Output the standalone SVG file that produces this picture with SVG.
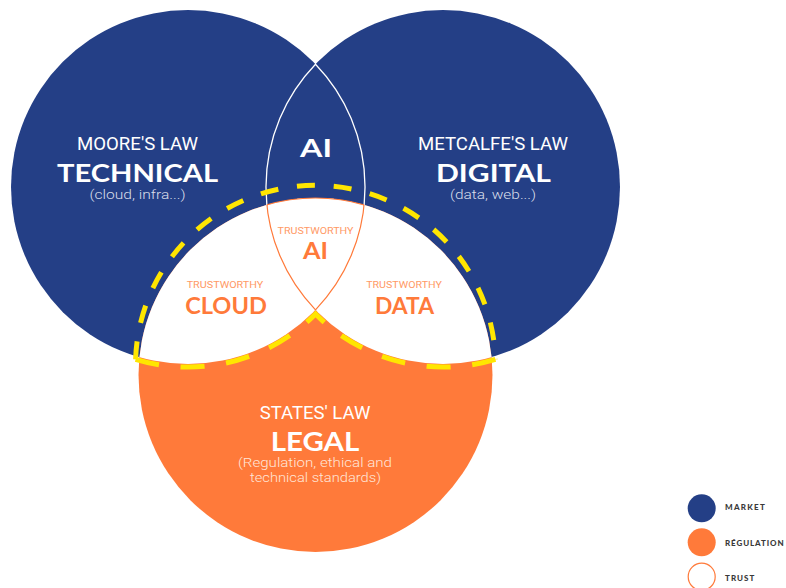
<svg xmlns="http://www.w3.org/2000/svg" width="786" height="588" viewBox="0 0 786 588">
  <style>
    .blue { fill: #243F86; }
    .orange { fill: #FF7A3A; }
    .head { font-family: Lato, "Open Sans", "DejaVu Sans", sans-serif; font-weight: 700; text-anchor: middle; }
    .sub { font-family: Roboto, "Open Sans", "Liberation Sans", sans-serif; font-weight: 400; text-anchor: middle; }
    .note { font-family: Roboto, "Open Sans", "Liberation Sans", sans-serif; font-weight: 300; text-anchor: middle; }
    .w { fill: #FFFFFF; }
    .wsoft { fill: #D9DEEA; }
    .osoft { fill: #FFE6D9; }
    .tw { font-family: Roboto, "Open Sans", "Liberation Sans", sans-serif; font-size: 9px; fill: #FF9A66; text-anchor: middle; }
    .tt { fill: #FF7A3A; }
    .leg { font-family: Lato, "Open Sans", "DejaVu Sans", sans-serif; font-weight: 900; font-size: 8px; fill: #3A3A3A; letter-spacing: 0.9px; }
    .dash { fill: none; stroke: #FFE600; stroke-width: 5; }
  </style>
  <defs>
    <clipPath id="clipBottom"><circle cx="315.5" cy="375" r="177"/></clipPath>
    <clipPath id="clipLens"><path d="M315.5 64.2 A177 177 0 0 1 315.5 309.8 A177 177 0 0 1 315.5 64.2 Z"/></clipPath>
  </defs>

  <g id="technical">
    <circle class="blue" cx="188" cy="187" r="177"/>
  </g>
  <g id="digital">
    <circle class="blue" cx="443" cy="187" r="177"/>
  </g>
  <g id="legal">
    <circle class="orange" cx="315.5" cy="375" r="177"/>
  </g>
  <g id="trust">
    <g clip-path="url(#clipBottom)">
      <circle cx="188" cy="187" r="177" fill="#FFFFFF"/>
      <circle cx="443" cy="187" r="177" fill="#FFFFFF"/>
    </g>
  </g>
  <g id="ai">
    <path d="M315.5 64.2 A177 177 0 0 1 315.5 309.8 A177 177 0 0 1 315.5 64.2 Z" fill="none" stroke="#FFFFFF" stroke-width="1.3"/>
    <path d="M315.5 64.2 A177 177 0 0 1 315.5 309.8 A177 177 0 0 1 315.5 64.2 Z" fill="none" stroke="#FF7A3A" stroke-width="1.2" clip-path="url(#clipBottom)"/>
    <circle cx="315.5" cy="375" r="177" fill="none" stroke="#FF7A3A" stroke-width="1.2" clip-path="url(#clipLens)"/>
  </g>
  <g id="connectors">
    <path class="dash" d="M135.6 359.3 A180 180 0 0 1 495.4 359.3" stroke-dasharray="18 18.86"/>
    <path class="dash" d="M135.6 359.3 A180 180 0 0 0 315.5 314.1 A180 180 0 0 0 495.4 359.3" stroke-dasharray="24 21.7"/>
  </g>

  <g id="labels-technical">
    <text class="sub w" x="137.5" y="150" font-size="18" textLength="121" lengthAdjust="spacingAndGlyphs">MOORE'S LAW</text>
    <text class="head w" x="137.5" y="182" font-size="25.5" textLength="161" lengthAdjust="spacingAndGlyphs">TECHNICAL</text>
    <text class="note wsoft" x="137.5" y="198.5" font-size="12.5" textLength="96" lengthAdjust="spacingAndGlyphs">(cloud, infra...)</text>
  </g>
  <g id="labels-digital">
    <text class="sub w" x="493" y="150" font-size="18" textLength="150" lengthAdjust="spacingAndGlyphs">METCALFE'S LAW</text>
    <text class="head w" x="493.5" y="182" font-size="25.5" textLength="115" lengthAdjust="spacingAndGlyphs">DIGITAL</text>
    <text class="note wsoft" x="493" y="198.5" font-size="12.5" textLength="86" lengthAdjust="spacingAndGlyphs">(data, web...)</text>
  </g>
  <g id="labels-ai">
    <text class="head w" x="316" y="157" font-size="24" textLength="32" lengthAdjust="spacingAndGlyphs">AI</text>
    <text class="tw" x="315.5" y="234" textLength="76" lengthAdjust="spacingAndGlyphs">TRUSTWORTHY</text>
    <text class="head tt" x="315.5" y="259.3" font-size="22" textLength="25" lengthAdjust="spacingAndGlyphs">AI</text>
  </g>
  <g id="labels-cloud">
    <text class="tw" x="225" y="287.7" textLength="76.6" lengthAdjust="spacingAndGlyphs">TRUSTWORTHY</text>
    <text class="head tt" x="226" y="314" font-size="22" textLength="81.7" lengthAdjust="spacingAndGlyphs">CLOUD</text>
  </g>
  <g id="labels-data">
    <text class="tw" x="404" y="287.7" textLength="75.7" lengthAdjust="spacingAndGlyphs">TRUSTWORTHY</text>
    <text class="head tt" x="404.5" y="314" font-size="22" textLength="59" lengthAdjust="spacingAndGlyphs">DATA</text>
  </g>
  <g id="labels-legal">
    <text class="sub w" x="315" y="419.3" font-size="18" textLength="110.7" lengthAdjust="spacingAndGlyphs">STATES' LAW</text>
    <text class="head w" x="315" y="450.7" font-size="26" textLength="88.6" lengthAdjust="spacingAndGlyphs">LEGAL</text>
    <text class="note osoft" x="315" y="467" font-size="13" textLength="154" lengthAdjust="spacingAndGlyphs">(Regulation, ethical and</text>
    <text class="note osoft" x="315.5" y="482" font-size="13" textLength="131" lengthAdjust="spacingAndGlyphs">technical standards)</text>
  </g>

  <g id="legend">
    <circle class="blue" cx="701.7" cy="508.3" r="14"/>
    <text class="leg" x="725" y="509.5" textLength="40.7">MARKET</text>
    <circle class="orange" cx="701.7" cy="542.3" r="14"/>
    <text class="leg" x="725" y="545.7">RÉGULATION</text>
    <circle cx="701.7" cy="576.7" r="13.5" fill="#FFFFFF" stroke="#FF7A3A" stroke-width="1.2"/>
    <text class="leg" x="725" y="580.5" textLength="30.3">TRUST</text>
  </g>
</svg>
